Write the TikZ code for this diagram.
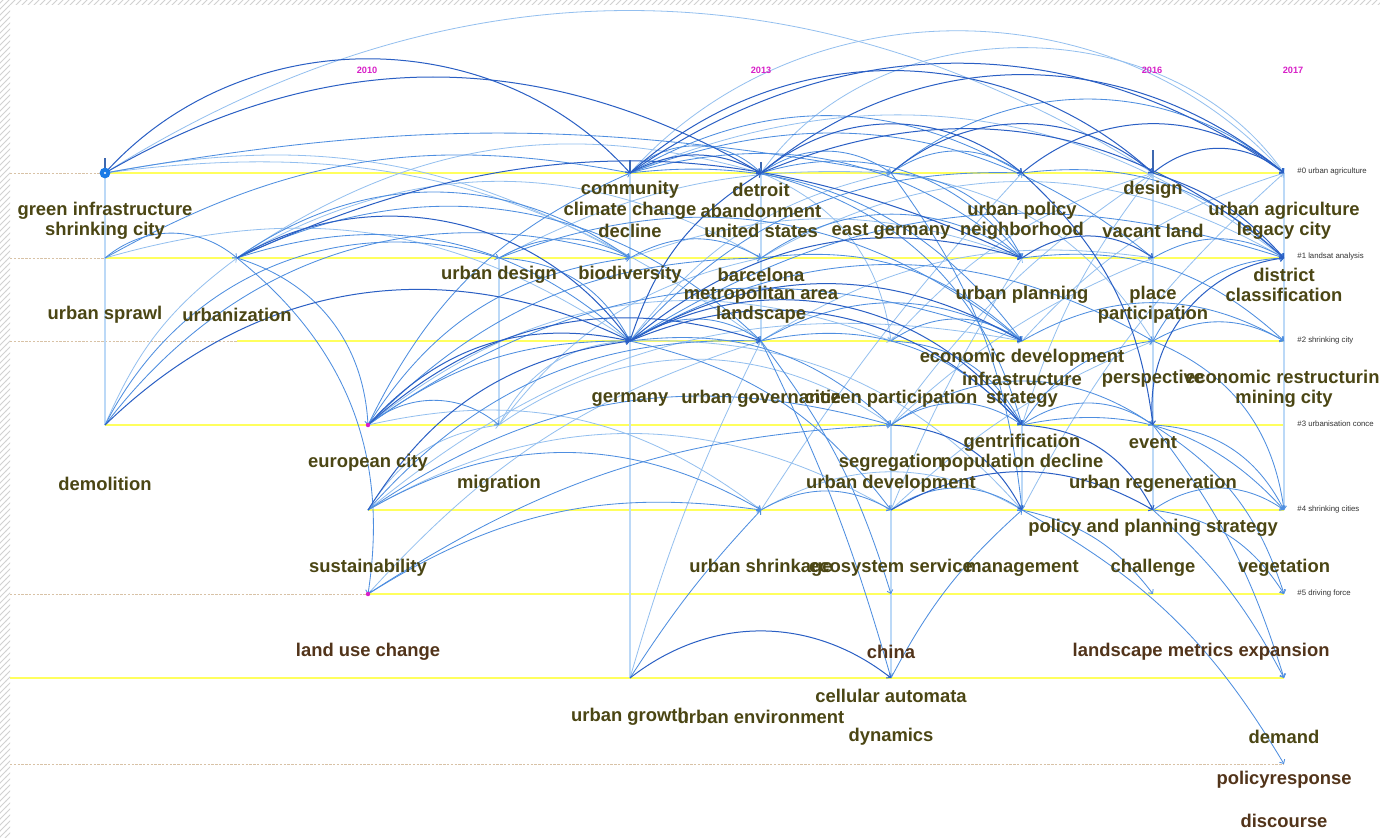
\documentclass[tikz,border=0pt]{standalone}
\usepackage{fontspec}
\setmainfont{Liberation Sans}
\usetikzlibrary{arrows.meta,patterns}
\definecolor{olivetxt}{HTML}{4B4614}
\definecolor{browntxt}{HTML}{52341A}
\definecolor{yearmag}{HTML}{D81FC8}
\definecolor{ylw}{HTML}{FFFF5E}
\definecolor{dotc}{HTML}{D8C2A6}
\definecolor{edark}{HTML}{2A5FC4}
\definecolor{emid}{HTML}{4E8EE0}
\definecolor{elight}{HTML}{93BFEF}
\definecolor{vline}{HTML}{BCD9F7}
\definecolor{tickc}{HTML}{3D68B0}
\definecolor{nodeblue}{HTML}{1A7AE6}
\tikzset{
  lab/.style={font=\fontsize{9.2}{10}\selectfont\bfseries, text=olivetxt, inner sep=0pt},
  labb/.style={lab, text=browntxt},
  clab/.style={font=\fontsize{3.9}{4.5}\selectfont, text=black!80, inner sep=0pt, anchor=west},
  yr/.style={font=\fontsize{4.6}{5}\selectfont\bfseries, text=yearmag, inner sep=0pt},
  yline/.style={draw=ylw, line width=1.4pt},
  dline/.style={draw=dotc, line width=0.5pt, dash pattern=on 1.2pt off 0.7pt},
  vl/.style={draw=vline, line width=0.6pt},
  tk/.style={draw=tickc, line width=0.6pt},
  tip/.style={-{Straight Barb[length=1.6pt,width=3pt]}},
  ed/.style={draw=edark, line width=0.5pt},
  em/.style={draw=emid, line width=0.42pt},
  el/.style={draw=elight, line width=0.4pt}
}
\begin{document}
\begin{tikzpicture}[x=0.5pt,y=-0.5pt]
\useasboundingbox (0,0) rectangle (1380,837);
\fill[white] (0,0) rectangle (1380,837);
\fill[pattern=north east lines, pattern color=black!18] (0,0) rectangle (10,837);
\fill[pattern=north east lines, pattern color=black!18] (10,0) rectangle (1380,4);
% grid coordinates
\foreach \r/\y in {A/173,B/258,C/341,D/425,E/510,F/594,G/678,H/764}{
  \foreach \c/\x in {0/105,1/237,2/368,3/499,4/630,5/761,6/891,7/1022,8/1153,9/1284}{
    \coordinate (\r\c) at (\x,\y);
  }
}
\coordinate (L0) at (10,173); \coordinate (L1) at (10,258); \coordinate (L2) at (10,341);
\coordinate (L3) at (10,425); \coordinate (L5) at (10,594); \coordinate (L6) at (10,678);
\coordinate (L7) at (10,764);
% timeline rows
\draw[dline] (L0) -- (A0); \draw[yline] (A0) -- (A9);
\draw[dline] (L1) -- (B0); \draw[yline] (B0) -- (B9);
\draw[dline] (L2) -- (C1); \draw[yline] (C1) -- (C9);
\draw[yline] (D0) -- (D9);
\draw[yline] (E2) -- (E9);
\draw[dline] (L5) -- (F2); \draw[yline] (F2) -- (F9);
\draw[yline] (L6) -- (G9);
\draw[dline] (L7) -- (H9);
% vertical lines
\coordinate (T0) at (105,158); \coordinate (T4) at (630,160);
\coordinate (T5) at (761,162); \coordinate (T8) at (1153,150);
\draw[vl] (T0) -- (D0);
\draw[vl] (T4) -- (G4);
\draw[vl] (T5) -- (C5);
\draw[vl] (T8) -- (E8);
\draw[vl] (A9) -- (E9);
\draw[vl] (D6) -- (G6);
\draw[vl] (B3) -- (D3);
\draw[vl] (D7) -- (E7);
\draw[tk] (T0) -- (A0); \draw[tk] (T4) -- (A4); \draw[tk] (T5) -- (A5); \draw[tk] (T8) -- (A8);
% light edges
\foreach \s/\t/\b in {A0/A8/32, A5/A9/55, A4/A9/48, E5/A7/5, E6/B7/5, D6/A8/10, D7/A8/10,
  E7/A9/10, C7/A9/15, D6/B8/10, C6/A8/15, E6/C8/10, G4/C5/5, F2/C5/15, D0/B1/15,
  C4/A6/20, B4/B7/20, E2/D3/25, D3/C4/30, D3/B5/20, D2/E5/25, E2/E6/30, B1/A5/25,
  B0/C4/25, A0/B4/20, A0/C5/22, B1/B5/30, D2/C6/30, E2/C7/25, C4/E7/25, A4/B9/30,
  B5/B9/30, A6/C8/25, A5/C6/30, D3/D6/35, E5/E7/30, B3/A6/15, C5/B8/20}{
  \draw[el,tip] (\s) to[bend left=\b] (\t);
}
% medium edges
\foreach \s/\t/\b in {A0/A6/10, A4/A7/30, A5/A6/35, A6/A7/35, A6/A9/40, A4/A5/45,
  A4/B8/30, A7/B9/25, B8/B9/30, A6/B7/30, A5/B7/35, A4/B7/28, B4/B5/30, B5/B7/35,
  B0/A4/20, B1/C4/30, B1/B4/35, B1/C5/35, B1/F2/30, B0/B1/40, D0/B4/35, D0/B3/40,
  D2/C4/18, D2/B4/25, D2/B5/22, D2/A4/20, D2/D3/40, D2/C7/28, B1/D2/35, E2/C5/25,
  E2/D6/25, E2/E5/30, F2/E5/20, F2/D6/15, C4/C8/30, C4/C5/35, C4/D6/25, C4/E6/20,
  C4/A7/25, C4/B9/25, B3/C4/30, B3/B4/30, B3/C7/30, C5/C7/30, C5/D7/30, B5/C7/25,
  C6/C7/35, C6/D7/30, D6/D7/35, D6/D8/35, D7/D8/35, D7/C8/25, D7/E9/30, D8/E9/30,
  D8/G9/10, D8/F9/20, E5/E6/30, G4/E5/5, E6/E7/35, G6/E7/10, E7/H9/15, E7/F8/20,
  E8/E9/35, E8/G9/10, E8/F9/25, C5/F6/10, C5/G6/5, A6/E7/15, A4/C7/30, A5/D7/30,
  C8/B9/30, C8/C9/30, C7/C9/30, B7/C9/25, C8/E9/30}{
  \draw[em,tip] (\s) to[bend left=\b] (\t);
}
% dark edges
\foreach \s/\t/\b in {A0/A4/48, A0/A5/30, A4/A9/35, A5/A9/40, A7/A9/40, A8/A9/40,
  A5/A7/40, A4/A5/28, A6/A8/40, C4/C7/30, C4/D7/35, C4/D7/42, B1/C4/42, D2/C4/30,
  D0/C4/35, A8/B9/15, A5/B9/32, C4/B7/28, E2/C4/25, G4/G6/38, A7/D8/20, D7/E8/30,
  D6/E7/30, E6/E8/30, D8/B9/45, C4/A5/20, B7/B8/35, A4/A8/42, B1/B7/25, D2/C5/30}{
  \draw[ed,tip] (\s) to[bend left=\b] (\t);
}
% node marks
\fill[nodeblue] (A0) circle (2.7pt);
\fill[white] (A0) circle (0.6pt);
\fill[yearmag] (D2) circle (1.1pt);
\fill[yearmag] (F2) circle (1.1pt);
% year labels
\node[yr] (y10) at (367,70) {2010};
\node[yr] (y13) at (761,70) {2013};
\node[yr] (y16) at (1152,70) {2016};
\node[yr] (y17) at (1293,70) {2017};
% cluster labels
\node[clab] (k0) at (1297,171) {\#0 urban agriculture};
\node[clab] (k1) at (1297,256) {\#1 landsat analysis};
\node[clab] (k2) at (1297,340) {\#2 shrinking city};
\node[clab] (k3) at (1297,424) {\#3 urbanisation conce};
\node[clab] (k4) at (1297,509) {\#4 shrinking cities};
\node[clab] (k5) at (1297,593) {\#5 driving force};
% keyword labels
\node[lab] (t01) at (105,211) {green infrastructure};
\node[lab] (t02) at (105,231) {shrinking city};
\node[lab] (t03) at (630,190) {community};
\node[lab] (t04) at (630,211) {climate change};
\node[lab] (t05) at (630,231) {decline};
\node[lab] (t06) at (761,190) {detroit};
\node[lab] (t07) at (761,211) {abandonment};
\node[lab] (t08) at (761,231) {united states};
\node[lab] (t09) at (891,231) {east germany};
\node[lab] (t10) at (1022,211) {urban policy};
\node[lab] (t11) at (1022,231) {neighborhood};
\node[lab] (t12) at (1153,190) {design};
\node[lab] (t13) at (1153,231) {vacant land};
\node[lab] (t14) at (1284,211) {urban agriculture};
\node[lab] (t15) at (1284,231) {legacy city};
\node[lab] (t16) at (105,315) {urban sprawl};
\node[lab] (t17) at (237,315) {urbanization};
\node[lab] (t18) at (499,275) {urban design};
\node[lab] (t19) at (630,275) {biodiversity};
\node[lab] (t20) at (761,275) {barcelona};
\node[lab] (t21) at (761,295) {metropolitan area};
\node[lab] (t22) at (761,315) {landscape};
\node[lab] (t23) at (1022,295) {urban planning};
\node[lab] (t24) at (1153,295) {place};
\node[lab] (t25) at (1153,315) {participation};
\node[lab] (t26) at (1284,275) {district};
\node[lab] (t27) at (1284,295) {classification};
\node[lab] (t28) at (630,399) {germany};
\node[lab] (t29) at (761,399) {urban governance};
\node[lab] (t30) at (891,399) {citizen participation};
\node[lab] (t31) at (1022,358) {economic development};
\node[lab] (t32) at (1022,379) {infrastructure};
\node[lab] (t33) at (1022,399) {strategy};
\node[lab] (t34) at (1153,379) {perspective};
\node[lab] (t35) at (1288,379) {economic restructuring};
\node[lab] (t36) at (1284,399) {mining city};
\node[lab] (t37) at (105,484) {demolition};
\node[lab] (t38) at (368,463) {european city};
\node[lab] (t39) at (499,484) {migration};
\node[lab] (t40) at (891,463) {segregation};
\node[lab] (t41) at (891,484) {urban development};
\node[lab] (t42) at (1022,443) {gentrification};
\node[lab] (t43) at (1022,463) {population decline};
\node[lab] (t44) at (1153,443) {event};
\node[lab] (t45) at (1153,484) {urban regeneration};
\node[lab] (t46) at (1153,528) {policy and planning strategy};
\node[lab] (t47) at (368,568) {sustainability};
\node[lab] (t48) at (761,568) {urban shrinkage};
\node[lab] (t49) at (891,568) {ecosystem service};
\node[lab] (t50) at (1022,568) {management};
\node[lab] (t51) at (1153,568) {challenge};
\node[lab] (t52) at (1284,568) {vegetation};
\node[labb] (t53) at (368,652) {land use change};
\node[labb] (t54) at (891,652) {china};
\node[labb] (t55) at (1153,652) {landscape metrics};
\node[labb] (t56) at (1284,652) {expansion};
\node[lab] (t57) at (891,696) {cellular automata};
\node[lab] (t58) at (630,717) {urban growth};
\node[lab] (t59) at (761,717) {urban environment};
\node[lab] (t60) at (891,737) {dynamics};
\node[lab] (t61) at (1284,737) {demand};
\node[labb] (t62) at (1284,780) {policyresponse};
\node[labb] (t63) at (1284,821) {discourse};
\end{tikzpicture}
\end{document}
